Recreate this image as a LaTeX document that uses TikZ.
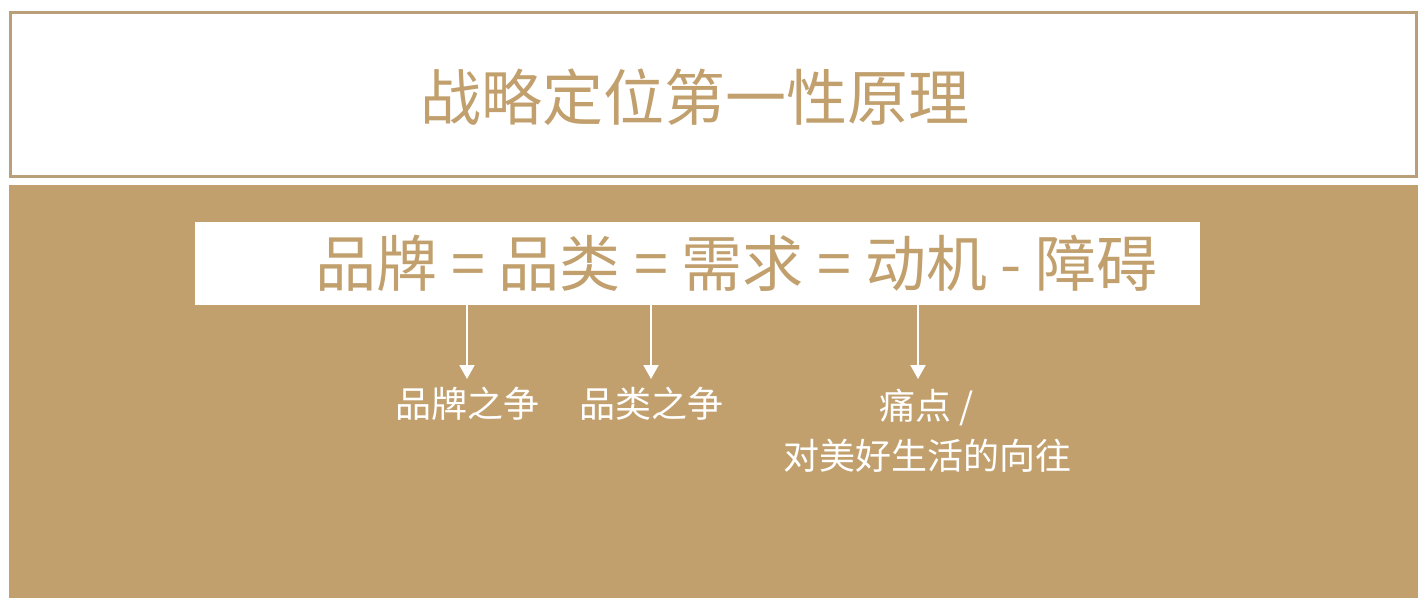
\documentclass[tikz,border=0pt]{standalone}
\usepackage{fontspec}
\newfontfamily\cjk{Noto Sans CJK SC}
\usetikzlibrary{arrows.meta,positioning}
\definecolor{gold}{HTML}{C1A06E}
\definecolor{goldline}{HTML}{B9A078}
\tikzset{
  bigtext/.style={font=\cjk\fontsize{61}{72}\selectfont,text=gold,inner sep=0pt},
  smalltext/.style={font=\cjk\fontsize{36}{50}\selectfont,text=white,inner sep=8pt,align=center},
  down/.style={draw=white,line width=2pt,-{Triangle[width=15pt,length=14pt]}}
}

\begin{document}
\begin{tikzpicture}[x=1pt,y=-1pt]
  \useasboundingbox[fill=white] (0,0) rectangle (1425,606);
  % title box
  \node[draw=goldline,line width=3pt,minimum width=1406pt,minimum height=164pt,inner sep=0pt]
        (titlebox) at (713.5,94.5) {};
  \node[bigtext] (title) at (694.5,97) {战略定位第一性原理};
  % brown panel
  \node[fill=gold,minimum width=1409pt,minimum height=413pt,inner sep=0pt]
        (panel) at (713.5,391.5) {};
  \node[fill=white,minimum width=1005pt,minimum height=83pt,inner sep=0pt]
        (strip) at (697.5,263.5) {};
  \node[bigtext] (formula) at (736.5,263) {品牌 = 品类 = 需求 = 动机 - 障碍};
  % labels
  \node[smalltext,anchor=north] (brand) at (467,379) {品牌之争};
  \node[smalltext,anchor=north] (category) at (651,379) {品类之争};
  \node[smalltext,anchor=north] (motive) at (927,381) {痛点 /\\对美好生活的向往};
  \coordinate (m) at (918,305);

  \draw[down] (strip.south -| brand.north) -- (brand.north);
  \draw[down] (strip.south -| category.north) -- (category.north);
  \draw[down] (m) -- (m |- brand.north);
\end{tikzpicture}
\end{document}
